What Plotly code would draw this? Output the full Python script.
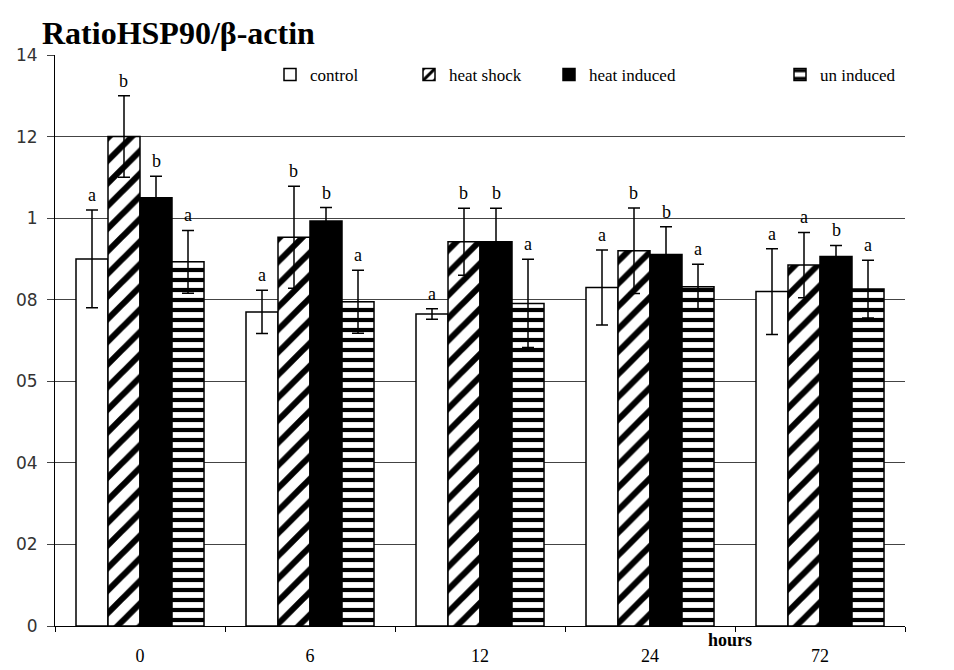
import plotly.graph_objects as go

hours = ["0", "6", "12", "24", "72"]

control = [0.90, 0.77, 0.765, 0.83, 0.82]
control_err = [0.12, 0.053, 0.013, 0.092, 0.105]
control_sig = ["a", "a", "a", "a", "a"]

heat_shock = [1.20, 0.953, 0.942, 0.92, 0.885]
heat_shock_err = [0.10, 0.125, 0.082, 0.105, 0.08]
heat_shock_sig = ["b", "b", "b", "b", "a"]

heat_induced = [1.05, 0.993, 0.942, 0.911, 0.906]
heat_induced_err = [0.053, 0.033, 0.082, 0.068, 0.027]
heat_induced_sig = ["b", "b", "b", "b", "b"]

un_induced = [0.893, 0.795, 0.791, 0.832, 0.826]
un_induced_err = [0.077, 0.077, 0.108, 0.055, 0.071]
un_induced_sig = ["a", "a", "a", "a", "a"]

y_tickvals = [0, 0.2, 0.4, 0.6, 0.8, 1.0, 1.2, 1.4]
y_ticktext = ["0", "02", "04", "05", "08", "1", "12", "14"]

SERIF = "Liberation Serif"
W, H = 954, 670
OFF = 8  # page body margin
L, R, T, B = 47, 57, 47, 52
BARGAP = 0.247

plot_w = W - L - R
plot_h = H - T - B


def px_x(sx):
    return (sx - OFF - L) / plot_w


def px_y(sy):
    return 1 - (sy - OFF - T) / plot_h


series = [
    ("control", control, control_err, control_sig,
     dict(color="white")),
    ("heat shock", heat_shock, heat_shock_err, heat_shock_sig,
     dict(color="white", pattern=dict(shape="/", fgcolor="black", bgcolor="white",
                                      fgopacity=1, size=16, solidity=0.38))),
    ("heat induced", heat_induced, heat_induced_err, heat_induced_sig,
     dict(color="black")),
    ("un induced", un_induced, un_induced_err, un_induced_sig,
     dict(color="white", pattern=dict(shape="-", fgcolor="black", bgcolor="white",
                                      fgopacity=1, size=10, solidity=0.42))),
]
legend_x = [270, 409, 549, 780]
legend_ids = ["legend", "legend2", "legend3", "legend4"]

fig = go.Figure()
for (name, vals, errs, _, mk), lid in zip(series, legend_ids):
    mk = dict(mk, line=dict(color="black", width=1.5))
    fig.add_trace(go.Bar(
        x=hours, y=vals, name=name, marker=mk, legend=lid,
        error_y=dict(type="data", array=errs, color="black", thickness=1.5, width=6),
    ))

# significance letters above each error bar
bar_w = plot_w / len(hours) * (1 - BARGAP) / len(series)
annotations = []
for s_idx, (name, vals, errs, sig, _) in enumerate(series):
    shift = (s_idx - (len(series) - 1) / 2) * bar_w
    for h_idx, (v, e, letter) in enumerate(zip(vals, errs, sig)):
        annotations.append(dict(
            x=h_idx, y=v + e, xref="x", yref="y", text=letter, showarrow=False,
            xshift=shift, yanchor="bottom", yshift=3,
            font=dict(family=SERIF, size=18, color="black"),
        ))

annotations.append(dict(
    x=px_x(40), y=px_y(33), xref="paper", yref="paper",
    text="<b>RatioHSP90/β-actin</b>", showarrow=False,
    font=dict(family=SERIF, size=32, color="black"),
    xanchor="left", yanchor="middle",
))
annotations.append(dict(
    x=px_x(730), y=px_y(640), xref="paper", yref="paper",
    text="<b>hours</b>", showarrow=False, xanchor="center", yanchor="middle",
    font=dict(family=SERIF, size=18, color="black"),
))

legends = {}
for lid, lx in zip(legend_ids, legend_x):
    legends[lid] = dict(
        orientation="h", x=px_x(lx), y=px_y(57), xanchor="left", yanchor="top",
        font=dict(family=SERIF, size=17, color="black"),
        bgcolor="rgba(0,0,0,0)", itemwidth=30,
    )

fig.update_layout(
    width=W, height=H,
    margin=dict(l=L, r=R, t=T, b=B),
    plot_bgcolor="white", paper_bgcolor="white",
    barmode="group", bargap=BARGAP, bargroupgap=0,
    showlegend=True,
    annotations=annotations,
    xaxis=dict(
        type="category", range=[-0.5, len(hours) - 0.5], automargin=False,
        showgrid=False, showline=True, linecolor="black", linewidth=1,
        ticks="outside", tickson="boundaries", ticklen=5, tickcolor="black",
        ticklabelstandoff=13, tickangle=0,
        tickfont=dict(family=SERIF, size=18, color="black"),
    ),
    yaxis=dict(
        range=[0, 1.4], tickvals=y_tickvals, ticktext=y_ticktext, automargin=False,
        showgrid=True, gridcolor="#444", gridwidth=1,
        showline=True, linecolor="black", linewidth=1,
        ticks="outside", ticklen=7, tickcolor="#444", ticklabelstandoff=6,
        tickfont=dict(family="DejaVu Sans", size=17, color="#333"),
        zeroline=False,
    ),
    **legends,
)

fig.write_html("out.html")
